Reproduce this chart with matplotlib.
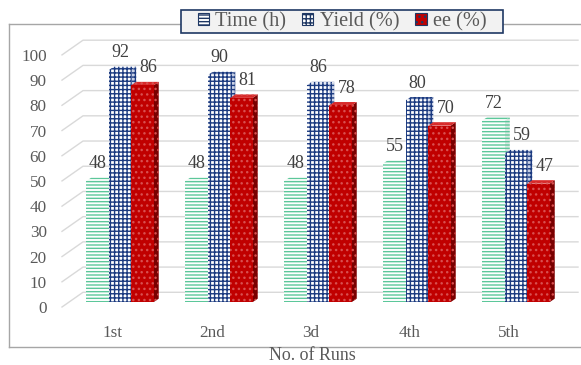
import numpy as np
import matplotlib.pyplot as plt
from matplotlib.patches import Polygon, Patch, Rectangle
from matplotlib.lines import Line2D

runs = ["1st", "2nd", "3d", "4th", "5th"]
time_h = [48, 48, 48, 55, 72]
yield_pct = [92, 90, 86, 80, 59]
ee_pct = [86, 81, 78, 70, 47]
series_names = ["Time (h)", "Yield (%)", "ee (%)"]
y_ticks = np.arange(0, 101, 10)

plt.rcParams['font.family'] = ['Liberation Serif', 'DejaVu Serif']

# look of each series: front face, top face, side face, hatch colour, hatch
styles = [
    dict(face="#FFFFFF", top="#F4FBF7", side="#DCE9E2", hc="#5CC79A", hatch="-----"),
    dict(face="#FFFFFF", top="#E4E9F4", side="#C9D1E6", hc="#1B3A80", hatch="++++"),
    dict(face="#C00000", top="#D82A2A", side="#7A0000", hc="#D85050", hatch="..."),
]

W, H = 581, 365
fig = plt.figure(figsize=(W / 100, H / 100), dpi=100)
ax = fig.add_axes([62 / W, (H - 307) / H, 516 / W, 257 / H])
ax.set_xlim(-0.515, 4.697)
ax.set_ylim(0, 100)
for s in ax.spines.values():
    s.set_visible(False)

px_x = 5.212 / 516          # data units per pixel, x
px_y = 100 / 257            # data units per pixel, y

# walls: slanted side gridline + back wall gridline
x0, x1 = ax.get_xlim()
front_drop = 5 * px_y
back_rise = 10 * px_y
for v in y_ticks:
    ax.plot([x0, x0 + 21 * px_x, x1], [v - front_drop, v + back_rise, v + back_rise],
            color="#D9D9D9", lw=1, clip_on=False, zorder=1)

ax.set_yticks(y_ticks - front_drop, labels=[str(v) for v in y_ticks])
x = np.arange(len(runs))
ax.set_xticks(x, labels=runs)
ax.tick_params(axis="both", length=0, labelsize=12.3, labelcolor="#595959")
ax.tick_params(axis="y", pad=11)
ax.tick_params(axis="x", pad=13)

bw = 22.5 * px_x
dx, dy = 5 * px_x, 3.5 * px_y
offsets = np.array([-bw, 0, bw]) + 7 * px_x

series = [time_h, yield_pct, ee_pct]
plt.rcParams['hatch.linewidth'] = 1.0
for k, (vals, st) in enumerate(zip(series, styles)):
    for i, v in enumerate(vals):
        left = x[i] + offsets[k] - bw / 2
        right = left + bw
        z = 3 + k
        # side face
        ax.add_patch(Polygon([(right, 0), (right + dx, dy), (right + dx, v + dy), (right, v)],
                             closed=True, facecolor=st["side"], edgecolor=st["hc"],
                             lw=0, hatch=st["hatch"], zorder=z, clip_on=False))
        # top face
        ax.add_patch(Polygon([(left, v), (right, v), (right + dx, v + dy), (left + dx, v + dy)],
                             closed=True, facecolor=st["top"], edgecolor=st["hc"],
                             lw=0, hatch=st["hatch"], zorder=z, clip_on=False))
        ax.bar(left + bw / 2, v, width=bw, facecolor=st["face"], edgecolor=st["hc"],
               lw=0, hatch=st["hatch"], zorder=z)
        # nudge the label right when the bar to the left is taller
        shift = 4.5 if k > 0 and series[k - 1][i] > v else 0
        ax.annotate(str(v), (left + bw / 2, v), xytext=(shift, 12.5),
                    textcoords="offset points", ha="center", va="center",
                    fontsize=13, color="#404040", zorder=10)

# chart area frame (left, top, bottom; right side runs off the image)
frame_kw = dict(color="#A6A6A6", lw=1, transform=fig.transFigure)
fl, ft, fb = 9 / W, 1 - 24 / H, 1 - 347 / H
fig.add_artist(Line2D([fl, fl], [fb, ft], **frame_kw))
fig.add_artist(Line2D([fl, 1], [ft, ft], **frame_kw))
fig.add_artist(Line2D([fl, 1], [fb, fb], **frame_kw))

fig.text(312 / W, 1 - 356 / H, "No. of Runs", ha="center", va="center",
         fontsize=12.9, color="#595959")

# legend box
fig.add_artist(Rectangle((181 / W, 1 - 33 / H), 322 / W, 23 / H, transform=fig.transFigure,
                         facecolor="#F2F2F2", edgecolor="#1F3864", lw=1.2, zorder=5))
handles = [Patch(facecolor=st["face"], edgecolor=st["hc"], hatch=st["hatch"], lw=0)
           for st in styles]
leg = fig.legend(handles, series_names, loc="center", bbox_to_anchor=(342 / W, 1 - 21.5 / H),
                 ncol=3, fontsize=14.7, frameon=False,
                 handlelength=0.55, handleheight=0.55, handletextpad=0.3,
                 columnspacing=0.8, borderpad=0, labelcolor="#595959")
leg.set_zorder(6)
for h in leg.legend_handles:
    h.set_edgecolor("#1F3864")
    h.set_linewidth(0.8)

fig.savefig("out.png", dpi=100)
